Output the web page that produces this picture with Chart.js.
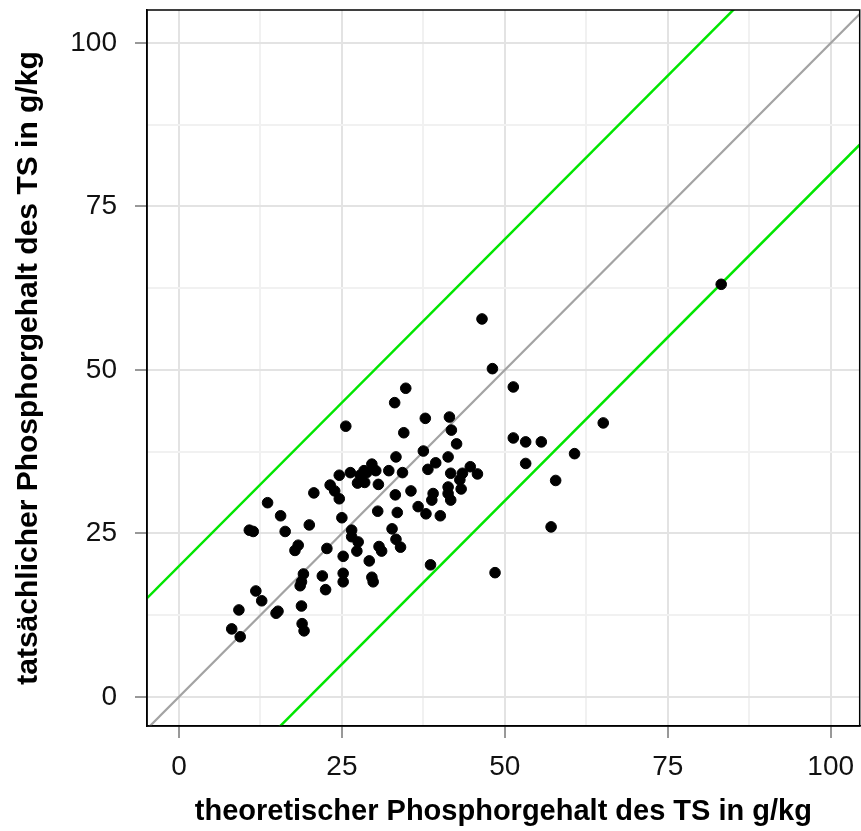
<!DOCTYPE html>
<html>
<head>
<meta charset="utf-8">
<script src="https://cdn.jsdelivr.net/npm/chart.js@4.4.0/dist/chart.umd.min.js"></script>
<style>
html, body { margin: 0; padding: 0; background: #fff; overflow: hidden; }
/* a little wider than the window: Chart.js keeps ~5px spare on the right */
#wrap { width: 866px; height: 831px; position: relative; }
</style>
</head>
<body>
<div id="wrap"><canvas id="myChart"></canvas></div>
<script>
// theoretical vs. actual phosphorus content (g/kg TS)
const theoretical = [8.1, 9.4, 9.2, 10.8, 11.4, 11.8, 12.7, 13.6, 14.9, 15.2, 15.6, 16.3, 17.8, 18.3, 18.6, 18.8, 19.1, 18.8, 18.9, 19.2,
	20.0, 20.7, 22.0, 22.5, 22.7, 23.2, 23.9, 24.6, 24.6, 25.0, 25.2, 25.2, 25.2, 25.6, 26.3, 26.5, 26.5, 27.5, 27.3,
	27.4, 28.5, 27.8, 28.4, 28.8, 29.2, 29.6, 29.6, 29.8, 30.2, 30.6, 30.5, 30.7, 31.1, 32.2, 32.7, 33.1, 33.2, 33.3, 33.5, 33.3,
	34.0, 34.3, 34.5, 34.8, 35.6, 36.7, 37.5, 37.8, 37.9, 38.2, 38.6, 39.0, 38.8, 39.4, 40.1, 41.3, 41.5, 41.8, 42.6, 41.3,
	41.3, 41.7, 41.7, 43.1, 43.3, 43.5, 44.7, 45.8, 46.5, 48.1, 48.5, 51.3, 51.3, 53.2, 53.2, 55.6, 57.1, 57.8, 60.7, 65.1, 83.2];
const actual = [10.4, 9.2, 13.3, 25.5, 25.3, 16.2, 14.7, 29.7, 12.8, 13.1, 27.7, 25.3, 22.4, 23.2, 17.0, 17.6, 18.8, 13.9, 11.2, 10.1,
	26.3, 31.2, 18.5, 16.4, 22.7, 32.4, 31.5, 30.3, 33.9, 27.4, 21.5, 18.9, 17.6, 41.4, 34.3, 25.5, 24.5, 23.7, 22.3,
	32.7, 32.8, 33.9, 34.6, 34.3, 20.8, 35.6, 18.3, 17.6, 34.6, 32.5, 28.4, 23.0, 22.3, 34.6, 25.7, 45.0, 30.9, 36.7, 28.2, 24.1,
	22.9, 34.3, 40.4, 47.2, 31.5, 29.1, 37.6, 42.6, 28.0, 34.8, 20.2, 31.1, 30.1, 35.8, 27.7, 36.7, 42.8, 40.8, 38.7, 32.1,
	31.1, 30.1, 34.2, 33.2, 31.8, 34.2, 35.2, 34.1, 57.8, 50.2, 19.0, 47.4, 39.6, 39.0, 35.7, 39.0, 26.0, 33.1, 37.2, 41.9, 63.1];

const tickLabels = [0, 25, 50, 75, 100];
const gridValues = [0, 12.5, 25, 37.5, 50, 62.5, 75, 87.5, 100];
const xRange = [-4.9, 104.45];
const yRange = [-4.45, 105.05];

// reference lines y = x + offset
const lineOffsets = [0, 20, -20];
const lineColors = ['#a3a3a3', '#00e600', '#00e600'];

const FONT = "'Liberation Sans', Arial, sans-serif";

function refLine(offset) {
	return xRange.map(x => ({ x: x, y: x + offset }));
}

const frame = {
	id: 'frame',
	afterDraw(chart) {
		const a = chart.chartArea;
		const ctx = chart.ctx;
		ctx.save();
		ctx.strokeStyle = '#000';
		ctx.lineWidth = 1.5;
		ctx.strokeRect(a.left, a.top, a.right - a.left, a.bottom - a.top);
		ctx.restore();
	}
};

function axis(range, titleText, isX) {
	return {
		type: 'linear',
		min: range[0],
		max: range[1],
		afterBuildTicks: s => { s.ticks = gridValues.map(v => ({ value: v })); },
		afterFit: s => {
			if (isX) s.height = 105; else s.width = 147;
			s.paddingTop = 0; s.paddingBottom = 0;
			s.paddingLeft = 0; s.paddingRight = 0;
		},
		ticks: {
			autoSkip: false,
			maxRotation: 0,
			padding: isX ? 12 : 18,
			color: '#111',
			font: { family: FONT, size: 28 },
			callback: v => tickLabels.includes(v) ? String(v) : ''
		},
		grid: {
			color: c => (c.tick && c.tick.value % 25 === 0) ? '#e3e3e3' : '#f1f1f1',
			lineWidth: 2,
			tickLength: 12,
			tickColor: c => (c.tick && c.tick.value % 25 === 0) ? '#333' : 'rgba(0,0,0,0)',
			tickWidth: 1
		},
		border: { color: '#000', width: 1.5 },
		title: {
			display: true,
			text: titleText,
			color: '#000',
			font: { family: FONT, size: isX ? 29 : 30, weight: 'bold' },
			padding: isX ? { top: 0, bottom: 2 } : { top: 11, bottom: 0 }
		}
	};
}

const datasets = [{
	type: 'scatter',
	label: 'Proben',
	data: theoretical.map((x, i) => ({ x: x, y: actual[i] })),
	backgroundColor: '#000',
	borderColor: '#000',
	pointRadius: 5.3,
	pointHoverRadius: 5.3
}];
lineOffsets.forEach((o, i) => {
	datasets.push({
		type: 'line',
		label: 'y = x ' + (o >= 0 ? '+ ' : '- ') + Math.abs(o),
		data: refLine(o),
		borderColor: lineColors[i],
		borderWidth: i === 0 ? 2.2 : 2.5,
		pointRadius: 0,
		fill: false
	});
});

new Chart('myChart', {
	type: 'scatter',
	data: { datasets: datasets },
	options: {
		responsive: true,
		maintainAspectRatio: false,
		animation: false,
		devicePixelRatio: 1,
		layout: { padding: { top: 10, right: 1, left: 0, bottom: 0 } },
		plugins: { legend: { display: false }, tooltip: { enabled: false } },
		scales: {
			x: axis(xRange, 'theoretischer Phosphorgehalt des TS in g/kg', true),
			y: axis(yRange, 'tatsächlicher Phosphorgehalt des TS in g/kg', false)
		}
	},
	plugins: [frame]
});
</script>
</body>
</html>
